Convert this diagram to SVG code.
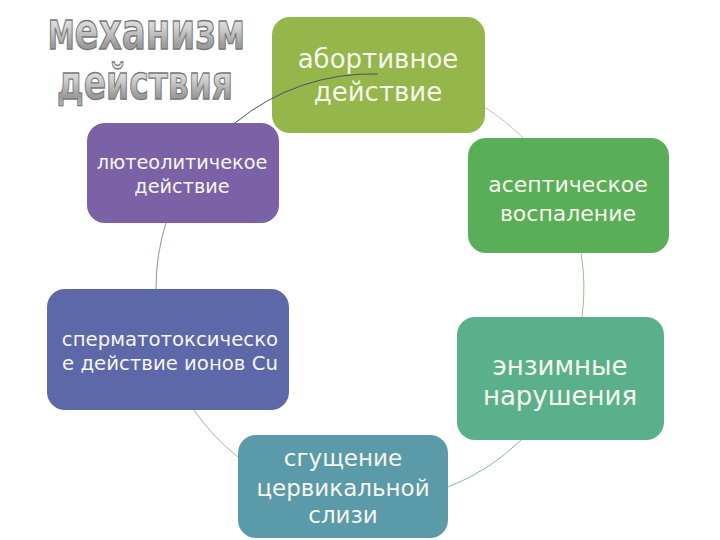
<svg xmlns="http://www.w3.org/2000/svg" width="720" height="540" viewBox="0 0 720 540">
<defs>
<linearGradient id="tg" x1="0" y1="0" x2="0" y2="1">
<stop offset="0" stop-color="#ffffff"/>
<stop offset="0.45" stop-color="#d0d0d0"/>
<stop offset="0.75" stop-color="#9a9a9a"/>
<stop offset="1" stop-color="#c8c8c8"/>
</linearGradient>
<style>
.title{font-family:"DejaVu Sans",sans-serif;font-weight:bold;fill:url(#tg);stroke:#777777;stroke-width:0.9;font-size:34px}
.cap{font-size:25.5px}
.node text{font-family:"DejaVu Sans","Noto Sans",sans-serif;fill:#f6f6ee;text-anchor:middle}
.arc{fill:none;stroke-width:1}
</style>
</defs>
<rect width="720" height="540" fill="#ffffff"/>
<g id="title">
<g transform="translate(48,49) scale(1,1.5)">
<text class="title" x="0" y="0" textLength="197" lengthAdjust="spacingAndGlyphs"><tspan class="cap">М</tspan>еханизм</text>
</g>
<g transform="translate(57,99) scale(1,1.42)">
<text class="title" x="0" y="0" textLength="176" lengthAdjust="spacingAndGlyphs">действия</text>
</g>
</g>
<g id="n1" class="node">
<rect x="272" y="17" width="213" height="116" rx="18" fill="#94b64b"/>
</g>
<g id="n2" class="node">
<rect x="468" y="138" width="201" height="115" rx="18" fill="#5bae58"/>
<text x="568" y="192" font-size="22">асептическое</text>
<text x="568" y="221" font-size="22">воспаление</text>
</g>
<g id="n3" class="node">
<rect x="457" y="317" width="207" height="123" rx="18" fill="#5bb08c"/>
<text x="560" y="375" font-size="26">энзимные</text>
<text x="560" y="405" font-size="26">нарушения</text>
</g>
<g id="n4" class="node">
<rect x="238" y="435" width="210" height="103" rx="18" fill="#5b9ba9"/>
<text x="343" y="466" font-size="23">сгущение</text>
<text x="343" y="496" font-size="23">цервикальной</text>
<text x="343" y="523" font-size="23">слизи</text>
</g>
<g id="n5" class="node">
<rect x="47" y="289" width="242" height="121" rx="18" fill="#5c68a8"/>
<text x="170" y="346" font-size="19.7">сперматотоксическо</text>
<text x="170" y="370" font-size="19.7">е действие ионов Cu</text>
</g>
<g id="n6" class="node">
<rect x="87" y="123" width="192" height="100" rx="18" fill="#7b62a6"/>
<text x="182" y="169" font-size="19.3">лютеолитичекое</text>
<text x="182" y="193" font-size="19.3">действие</text>
</g>
<g id="connectors">
<path class="arc" stroke="#b8c8b0" d="M485,107.5 A214,214 0 0 1 523,138"/>
<path class="arc" stroke="#8fc48c" d="M581,253 A214,214 0 0 1 582,317"/>
<path class="arc" stroke="#7fb8b0" d="M521,440 A214,214 0 0 1 448,487"/>
<path class="arc" stroke="#9fb0c8" d="M238,457 A214,214 0 0 1 194,410"/>
<path class="arc" stroke="#8890b8" d="M156,289 A214,214 0 0 1 166,223"/>
<path class="arc" stroke="#4a5068" d="M235,123 A214,214 0 0 1 378,74"/>
</g>
<g id="n1-label" class="node">
<text x="378" y="68" font-size="26">абортивное</text>
<text x="378" y="101" font-size="26">действие</text>
</g>
</svg>
